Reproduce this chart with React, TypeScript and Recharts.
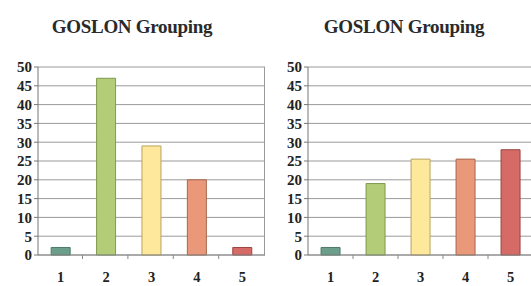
import React from "react";
import { BarChart, Bar, XAxis, YAxis, CartesianGrid, Cell } from "recharts";

const categories = ["1", "2", "3", "4", "5"];
const leftValues = [2, 47, 29, 20, 2];
const rightValues = [2, 19, 25.5, 25.5, 28];
const yTicks = [0, 5, 10, 15, 20, 25, 30, 35, 40, 45, 50];
const title = "GOSLON Grouping";

const fills = ["#6b9e8b", "#b2cc78", "#fde89c", "#e9997a", "#d66a66"];
const strokes = ["#4f7a6a", "#7f9a4f", "#b8a460", "#a8674d", "#9a4442"];

const FONT = "'Liberation Serif', 'Times New Roman', serif";

const toRows = (vals: number[]) => categories.map((c, i) => ({ cat: c, v: vals[i] }));

const XTick = (props: any) => {
  const { x, payload, index, band, axisY } = props;
  return (
    <g>
      {index < categories.length - 1 && (
        <line x1={x + band / 2} x2={x + band / 2} y1={axisY} y2={axisY + 4} stroke="#888" />
      )}
      <text x={x} y={axisY + 27} textAnchor="middle" fontFamily={FONT} fontWeight="bold" fontSize={14.5} fill="#222">
        {payload.value}
      </text>
    </g>
  );
};

function Panel({ vals, left, width, marginLeft, band, titleX }: any) {
  return (
    <div style={{ position: "absolute", left, top: 0, width, height: 286 }}>
      <div
        style={{
          position: "absolute",
          left: titleX - 110,
          width: 220,
          top: 16,
          textAlign: "center",
          fontFamily: FONT,
          fontWeight: "bold",
          fontSize: 19,
          color: "#2a2a2a",
          lineHeight: "21px",
          letterSpacing: "-0.3px",
        }}
      >
        {title}
      </div>
      <BarChart
        width={width}
        height={286}
        data={toRows(vals)}
        margin={{ top: 67, right: 0, bottom: 0, left: marginLeft }}
        barCategoryGap="29%"
      >
        <CartesianGrid
          stroke="#9a9a9a"
          verticalCoordinatesGenerator={(p: any) => [p.offset.left + p.offset.width - 0.5]}
        />
        <XAxis
          dataKey="cat"
          axisLine={{ stroke: "#888" }}
          tickLine={false}
          tick={<XTick band={band} axisY={255} />}
          height={31}
          interval={0}
        />
        <YAxis
          domain={[0, 50]}
          ticks={yTicks}
          width={30}
          axisLine={{ stroke: "#777" }}
          tickLine={{ stroke: "#777" }}
          tickSize={4}
          tickMargin={2}
          interval={0}
          tick={{ fontFamily: FONT, fontWeight: "bold", fontSize: 15, fill: "#222" }}
        />
        <Bar dataKey="v" isAnimationActive={false}>
          {vals.map((_: number, i: number) => (
            <Cell key={i} fill={fills[i]} stroke={strokes[i]} strokeWidth={1} />
          ))}
        </Bar>
      </BarChart>
    </div>
  );
}

export default function App() {
  return (
    <div style={{ position: "absolute", left: 0, top: 0, width: 531, height: 286, overflow: "hidden", background: "#fff" }}>
      <Panel vals={leftValues} left={0} width={265} marginLeft={8} band={43.6} titleX={132} />
      <Panel vals={rightValues} left={265} width={268} marginLeft={13} band={45} titleX={139} />
    </div>
  );
}
